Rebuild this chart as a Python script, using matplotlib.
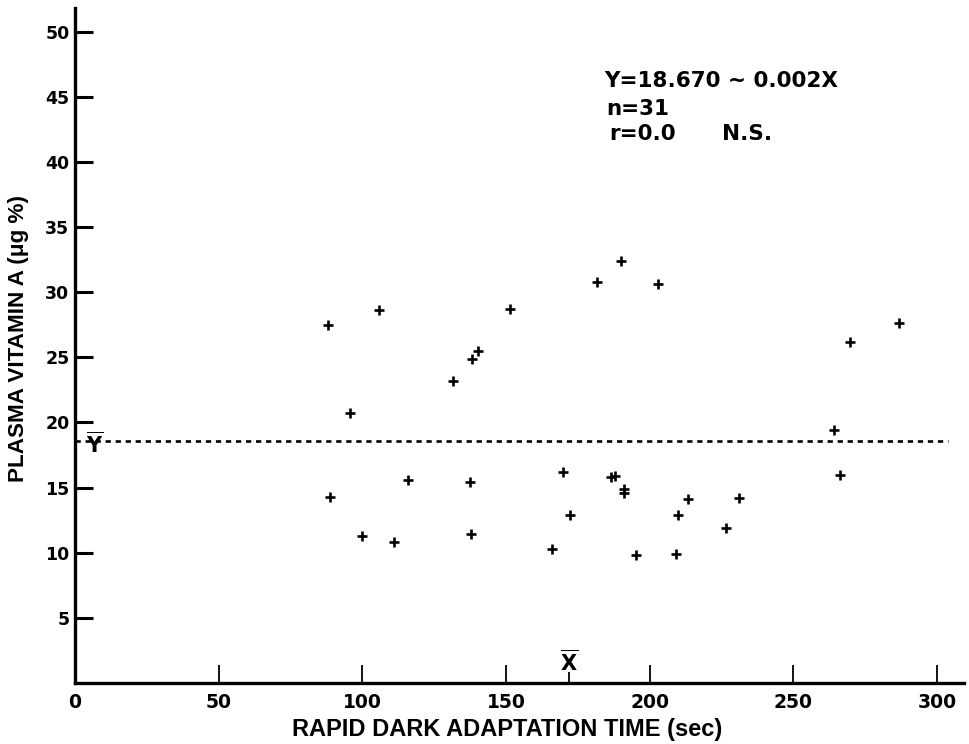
import matplotlib
matplotlib.use("Agg")
from matplotlib import pyplot as plt

# rapid dark adaptation time (sec) vs plasma vitamin A (ug %)
timeSec = [87.9, 105.7, 151.3, 140.2, 138.1, 131.5, 95.6, 115.8, 137.6, 88.6,
           100.0, 111.1, 137.9, 190.1, 181.8, 202.9, 286.8, 269.9, 264.2, 169.8,
           186.4, 187.8, 191.0, 191.0, 266.4, 213.3, 231.0, 172.4, 209.8, 226.7,
           166.1, 195.4, 209.1]
vitaminA = [27.5, 28.6, 28.7, 25.5, 24.9, 23.2, 20.7, 15.6, 15.4, 14.3,
            11.3, 10.8, 11.4, 32.4, 30.8, 30.6, 27.6, 26.2, 19.4, 16.2,
            15.8, 15.9, 14.9, 14.6, 16.0, 14.1, 14.2, 12.9, 12.9, 11.9,
            10.3, 9.8, 9.9]
xMean = 171.8
yMean = 18.6
xTicks = [0, 50, 100, 150, 200, 250, 300]
yTicks = [5, 10, 15, 20, 25, 30, 35, 40, 45, 50]
statLines = ["Y=18.670 ~ 0.002X", "n=31", "r=0.0"]

plt.rcParams["font.family"] = ["DejaVu Sans"]
plt.rcParams["font.weight"] = "bold"
plt.rcParams["mathtext.fontset"] = "custom"
plt.rcParams["mathtext.rm"] = "DejaVu Sans:bold"
plt.rcParams["mathtext.bf"] = "DejaVu Sans:bold"

figure = plt.figure(figsize=(9.7, 7.44), dpi=100)
ax = figure.add_axes([0.0773, 0.082, 0.9165, 0.907])

ax.plot(timeSec, vitaminA, linestyle="none", marker="+", markersize=6.5,
        markeredgewidth=1.9, color="black")
ax.axhline(yMean, xmin=0, xmax=303.8 / 309.4, color="black", linewidth=1.9,
           dashes=(2.0, 1.8))

ax.set_xlim(0, 309.4)
ax.set_ylim(0, 51.8)
ax.set_xticks(xTicks)
ax.set_yticks(yTicks)
ax.set_xticks([xMean], minor=True)
ax.tick_params(axis="x", which="major", direction="in", length=13, width=1.3,
               pad=7, labelsize=13.5)
ax.tick_params(axis="x", which="minor", direction="in", length=8, width=1.3)
ax.tick_params(axis="y", direction="in", length=13, width=2.2, pad=4,
               labelsize=12.5)

for side in ["top", "right"]:
    ax.spines[side].set_visible(False)
for side in ["left", "bottom"]:
    ax.spines[side].set_linewidth(2.4)

ax.set_xlabel("RAPID DARK ADAPTATION TIME (sec)", fontsize=17,
              fontweight="bold", family="Liberation Sans")
ax.xaxis.set_label_coords(0.486, -0.052)
ax.set_ylabel("PLASMA VITAMIN A (\u03bcg %)", fontsize=16.2,
              fontweight="bold", family="Liberation Sans")
ax.yaxis.set_label_coords(-0.052, 0.51)

ax.text(7, 18.3, r"$\overline{\mathrm{Y}}$", fontsize=15, ha="center", va="center")
ax.text(xMean, 1.6, r"$\overline{\mathrm{X}}$", fontsize=15, ha="center", va="center")

ax.text(184.3, 46.24, statLines[0], fontsize=15.5, va="center")
ax.text(185.0, 44.06, statLines[1], fontsize=15.5, va="center")
ax.text(186.0, 42.14, statLines[2], fontsize=15.5, va="center")
ax.text(225.3, 42.14, "N.S.", fontsize=15.5, va="center")

plt.savefig("out.png")
